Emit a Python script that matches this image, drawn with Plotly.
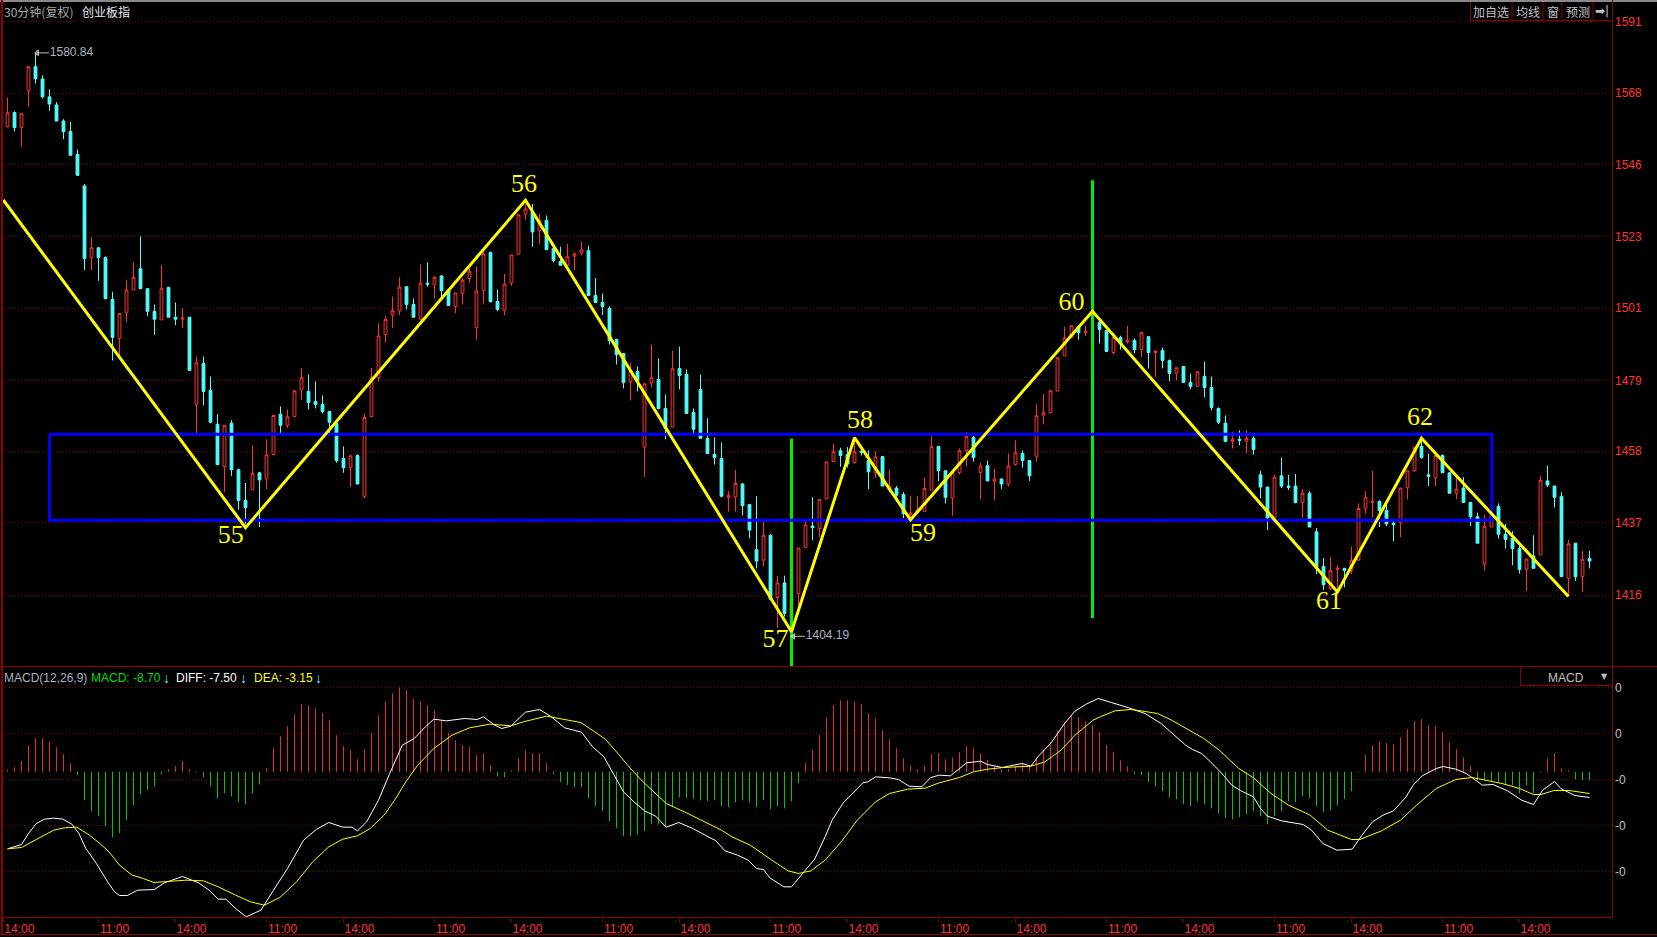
import math
import plotly.graph_objects as go

W, H = 1657, 937

price_open = [
 1557.3,1561.8,1557.1,1568.7,1576.4,1572.5,1566.8,1564.2,1559.1,1555.8,
 1548.6,1538.7,1516.5,1519.5,1516.5,1503.6,1491.8,1499.5,1506.5,1513.0,
 1506.9,1500.0,1497.4,1507.3,1498.2,1497.6,1498.2,1472.0,1484.2,1476.1,
 1466.0,1453.4,1466.3,1452.5,1443.5,1446.6,1451.6,1449.8,1457.0,1469.0,
 1465.7,1468.3,1476.2,1475.8,1472.8,1471.9,1469.8,1466.3,1455.8,1453.2,
 1456.7,1444.7,1468.3,1479.9,1492.9,1498.9,1500.1,1507.5,1502.1,1497.6,
 1508.6,1508.1,1510.8,1506.3,1501.5,1505.5,1510.0,1495.0,1506.3,1518.0,
 1503.0,1500.4,1508.7,1517.5,1529.9,1530.5,1524.8,1528.0,1519.2,1515.3,
 1514.1,1516.9,1517.8,1518.6,1504.8,1502.7,1500.9,1491.4,1487.2,1478.8,
 1481.8,1459.2,1478.3,1479.4,1470.7,1465.2,1482.7,1480.9,1469.5,1476.4,
 1461.8,1457.0,1455.8,1444.4,1444.5,1448.3,1442.3,1429.1,1426.1,1433.3,
 1415.3,1419.5,1409.7,1416.4,1429.8,1436.0,1435.2,1443.9,1454.9,1458.1,
 1457.0,1454.6,1458.0,1455.2,1451.6,1456.4,1446.5,1447.1,1445.2,1439.3,
 1440.0,1440.3,1446.5,1459.4,1452.2,1444.2,1451.7,1458.2,1462.1,1451.7,
 1453.7,1449.1,1449.8,1448.3,1454.1,1457.3,1455.2,1456.5,1468.7,1469.5,
 1475.9,1486.5,1492.1,1495.3,1493.5,1495.9,1496.6,1494.2,1487.5,1492.0,
 1490.7,1491.1,1488.4,1492.3,1487.5,1488.1,1485.1,1481.3,1483.3,1478.5,
 1477.3,1480.3,1477.0,1470.7,1466.3,1460.9,1461.5,1460.9,1461.8,1451.0,
 1447.4,1438.4,1450.7,1447.7,1447.7,1442.9,1445.6,1434.3,1424.2,1417.8,
 1423.4,1423.7,1423.1,1426.1,1441.2,1442.9,1443.2,1440.5,1436.8,1436.9,
 1447.2,1452.2,1459.4,1451.0,1450.1,1456.7,1451.6,1445.6,1447.1,1442.9,
 1438.7,1425.0,1435.7,1441.7,1433.6,1432.4,1429.4,1423.4,1427.3,1427.6,
 1449.2,1447.7,1444.7,1420.8,1431.0,1421.3,1426.6]

price_high = [
 1566.6,1562.2,1561.4,1576.4,1580.84,1573.7,1569.2,1565.1,1559.7,1558.8,
 1550.1,1539.3,1522.8,1519.5,1516.8,1506.0,1499.3,1509.6,1515.0,1523.0,
 1506.9,1502.1,1514.1,1507.5,1502.7,1500.9,1498.2,1486.3,1486.3,1480.3,
 1469.0,1465.7,1467.2,1452.8,1448.6,1459.7,1451.9,1461.5,1468.8,1471.3,
 1470.4,1476.0,1482.7,1480.9,1478.8,1474.6,1469.8,1466.3,1459.4,1456.9,
 1457.0,1469.0,1482.9,1496.4,1498.5,1504.5,1510.5,1507.5,1503.9,1514.4,
 1515.0,1510.8,1511.1,1506.3,1505.6,1510.1,1513.2,1513.8,1518.3,1518.3,
 1506.6,1511.4,1517.3,1529.7,1533.0,1533.1,1530.1,1529.5,1519.2,1519.8,
 1520.7,1518.0,1521.3,1520.1,1510.2,1505.4,1501.5,1491.7,1487.2,1484.5,
 1483.3,1478.1,1489.9,1485.7,1474.9,1488.1,1489.3,1482.4,1470.7,1480.9,
 1467.8,1462.1,1460.6,1446.2,1452.5,1448.6,1442.3,1444.7,1437.2,1433.6,
 1421.6,1421.6,1415.1,1429.6,1437.2,1444.4,1443.7,1454.8,1460.2,1459.0,
 1459.2,1461.2,1458.4,1458.2,1457.9,1456.4,1452.5,1447.7,1445.9,1444.7,
 1444.7,1450.1,1462.4,1459.4,1452.2,1451.6,1458.8,1463.6,1462.7,1454.6,
 1455.2,1452.8,1449.8,1457.3,1461.2,1458.2,1455.2,1471.9,1475.0,1476.0,
 1485.9,1495.3,1495.9,1495.3,1495.6,1497.1,1497.6,1494.2,1492.3,1492.6,
 1495.6,1491.7,1493.8,1492.3,1488.1,1489.0,1485.4,1482.9,1483.3,1481.2,
 1481.7,1484.8,1480.3,1471.0,1468.6,1463.6,1464.2,1464.2,1462.4,1452.2,
 1447.4,1451.0,1456.1,1451.0,1451.3,1446.8,1446.2,1435.4,1426.7,1427.0,
 1424.6,1423.7,1430.0,1442.6,1446.2,1452.2,1443.5,1442.3,1437.5,1447.1,
 1452.2,1459.1,1461.7,1457.3,1456.7,1457.0,1451.6,1450.3,1450.3,1442.9,
 1439.9,1439.3,1441.7,1442.6,1436.6,1434.5,1430.3,1426.4,1433.3,1450.7,
 1453.7,1447.7,1445.9,1432.0,1431.0,1428.8,1428.8]

price_low = [
 1557.1,1555.8,1551.0,1563.6,1571.0,1566.3,1562.4,1559.1,1553.4,1548.3,
 1542.0,1512.6,1512.6,1509.3,1503.6,1485.1,1486.6,1496.8,1506.5,1506.9,
 1498.5,1492.9,1497.4,1498.2,1495.8,1494.9,1482.1,1463.2,1471.6,1466.3,
 1454.0,1445.9,1450.7,1440.8,1436.5,1446.6,1435.7,1446.8,1456.7,1463.3,
 1464.8,1468.1,1473.1,1470.4,1470.7,1469.2,1463.2,1454.6,1451.6,1447.4,
 1448.3,1444.1,1468.1,1478.8,1490.5,1494.9,1498.8,1500.6,1498.2,1497.3,
 1507.5,1503.9,1504.3,1501.6,1499.4,1502.1,1508.7,1491.4,1502.1,1502.7,
 1500.0,1498.8,1507.8,1517.5,1528.2,1519.8,1520.7,1518.9,1515.0,1514.1,
 1514.1,1512.6,1517.1,1504.8,1502.7,1498.8,1489.9,1483.9,1476.7,1473.1,
 1475.8,1450.4,1477.0,1470.4,1461.5,1465.2,1476.4,1469.2,1463.2,1461.8,
 1457.3,1454.0,1444.4,1440.2,1440.2,1439.1,1432.4,1423.7,1424.3,1414.5,
 1406.6,1409.8,1404.19,1412.2,1429.8,1431.8,1432.7,1443.9,1454.9,1453.4,
 1453.2,1454.3,1456.7,1446.8,1450.1,1447.7,1446.0,1443.0,1438.3,1438.0,
 1440.0,1440.3,1446.5,1449.2,1442.6,1439.0,1451.1,1453.4,1454.9,1443.8,
 1449.2,1443.5,1446.8,1447.6,1453.7,1453.1,1449.2,1454.9,1466.0,1469.2,
 1475.9,1486.5,1491.9,1491.4,1492.6,1495.6,1490.2,1487.8,1486.9,1488.4,
 1490.2,1487.2,1486.0,1482.7,1480.3,1482.7,1478.8,1479.1,1478.5,1476.4,
 1477.3,1474.0,1470.1,1466.0,1460.6,1458.8,1459.7,1457.3,1457.0,1444.1,
 1434.8,1438.4,1447.1,1446.5,1442.6,1438.4,1435.7,1422.0,1417.5,1417.4,
 1416.7,1418.2,1422.1,1425.8,1439.6,1438.5,1435.7,1436.0,1431.5,1432.7,
 1443.8,1451.9,1455.8,1447.7,1447.7,1451.6,1445.6,1443.8,1442.9,1436.0,
 1431.0,1423.1,1435.7,1432.4,1429.4,1424.6,1422.2,1417.2,1423.7,1427.6,
 1447.4,1441.4,1421.3,1415.7,1420.1,1416.9,1423.7]

price_close = [
 1561.7,1557.0,1561.4,1576.4,1572.5,1566.8,1564.5,1559.1,1555.8,1548.3,
 1542.0,1516.2,1519.5,1516.5,1503.9,1492.1,1499.3,1506.5,1510.4,1506.9,
 1500.0,1497.6,1506.9,1498.2,1497.6,1498.0,1482.1,1484.4,1475.8,1466.6,
 1454.0,1465.7,1452.5,1443.5,1441.4,1451.5,1449.5,1456.9,1468.6,1465.7,
 1468.2,1476.0,1479.9,1472.5,1471.9,1469.8,1466.6,1455.2,1453.1,1456.6,
 1448.3,1468.0,1479.9,1492.5,1497.5,1500.2,1507.4,1502.1,1498.2,1508.6,
 1508.3,1510.4,1506.3,1501.8,1505.6,1509.5,1512.2,1506.2,1517.6,1503.0,
 1500.6,1508.3,1517.3,1529.7,1531.5,1524.4,1527.9,1518.9,1515.6,1514.1,
 1516.7,1517.6,1518.8,1504.8,1502.7,1501.5,1491.1,1486.9,1478.5,1481.8,
 1479.1,1478.1,1479.9,1470.7,1464.7,1482.6,1480.6,1469.2,1464.5,1461.8,
 1457.3,1456.1,1444.7,1445.0,1448.5,1442.0,1434.8,1425.8,1433.2,1414.8,
 1419.5,1410.7,1415.1,1429.6,1436.3,1435.5,1443.7,1454.8,1457.8,1456.7,
 1454.2,1457.8,1457.6,1451.9,1456.3,1447.7,1447.7,1445.0,1439.6,1439.8,
 1440.7,1447.0,1459.3,1452.2,1444.4,1451.6,1458.1,1462.3,1456.1,1453.6,
 1449.2,1449.7,1448.3,1453.6,1457.5,1455.2,1450.7,1468.5,1469.4,1476.0,
 1485.9,1491.9,1495.6,1493.5,1493.8,1496.2,1494.5,1487.8,1492.0,1490.2,
 1491.1,1488.4,1493.5,1487.5,1487.9,1485.1,1481.2,1482.9,1478.5,1477.3,
 1481.7,1477.0,1471.0,1466.6,1460.9,1461.5,1461.2,1461.8,1458.5,1447.4,
 1438.4,1450.3,1447.7,1447.3,1442.9,1445.6,1435.7,1424.0,1419.0,1423.1,
 1423.8,1423.1,1426.1,1441.1,1444.4,1443.2,1440.5,1436.6,1436.4,1447.1,
 1452.2,1459.1,1456.1,1450.6,1456.7,1451.6,1445.6,1446.8,1442.9,1438.7,
 1431.0,1435.9,1439.0,1433.6,1432.1,1429.4,1423.4,1426.4,1423.7,1449.4,
 1448.0,1444.4,1421.3,1430.8,1421.3,1426.3,1425.8]

macd_bar = [
 0.7,1.4,3.2,8.0,10.1,10.1,9.2,7.4,5.3,2.6,-1.0,-8.5,-11.8,-13.3,-16.3,-19.6,-18.4,-14.5,-10.0,-6.7,
 -5.5,-4.3,-0.7,0.8,1.7,3.2,0.8,-0.2,-1.6,-4.3,-7.9,-6.4,-7.3,-9.1,-9.7,-6.4,-3.7,1.1,7.1,10.7,
 13.7,17.3,20.3,20.0,19.1,17.6,15.5,11.0,7.7,6.5,3.8,6.8,11.6,17.0,21.2,23.6,25.3,24.5,21.8,21.2,
 20.0,18.5,15.5,11.6,9.5,8.0,7.4,5.0,5.6,2.0,-1.3,-1.6,0.5,4.1,6.5,5.6,5.6,2.6,-0.7,-3.1,
 -4.0,-4.6,-4.6,-7.9,-10.3,-11.8,-14.8,-16.9,-19.3,-19.3,-18.7,-17.8,-15.7,-15.7,-16.3,-10.3,-7.6,-7.9,-7.9,-8.5,
 -8.8,-8.5,-10.3,-10.6,-9.1,-8.5,-9.1,-10.6,-8.5,-11.2,-10.3,-10.9,-8.8,-3.4,2.6,6.5,11.0,16.4,20.0,21.5,
 21.5,21.2,20.3,17.6,16.1,12.5,9.8,7.1,4.1,2.0,0.8,1.7,5.3,5.6,3.8,4.4,5.9,7.7,7.1,5.6,
 3.5,1.7,0.8,0.8,1.7,2.6,1.7,4.4,6.8,8.9,12.5,14.9,17.0,16.4,15.2,14.0,11.9,8.0,5.9,3.5,
 1.7,-0.7,-1.0,-3.1,-4.3,-5.8,-7.6,-8.2,-9.7,-10.3,-8.8,-9.7,-10.9,-12.4,-13.9,-14.2,-13.6,-12.7,-11.8,-13.3,
 -15.7,-13.3,-11.8,-8.8,-9.1,-7.3,-7.9,-10.3,-12.1,-11.5,-10.0,-8.2,-5.8,-0.2,5.0,8.0,9.2,8.6,8.3,10.4,
 12.8,15.2,15.8,14.0,13.7,11.9,8.9,6.8,4.4,1.7,-2.5,-2.5,-2.8,-3.1,-3.7,-4.0,-6.4,-4.0,-6.4,-0.2,
 4.1,5.6,1.1,0.5,-2.2,-2.5,-2.5]

diff_bar = [0,2.0,3.0,4.1,5.3,6.6,7.9,9.2,10.2,11.2,12.7,14.3,15.3,16.0,17.1,18.6,21.0,22.4,25.0,27.3,28.8,30.1,31.2,32.6,34.1,36.2,38.0,40.0,42.3,44.1,45.9,47.9,49.2,50.0,51.3,53.0,54.6,56.4,58.1,59.7,60.9,62.7,65.3,67.1,68.0,69.6,70.6,71.9,74.0,76.0,77.5,79.6,82.0,83.6,85.2,86.7,88.0,89.5,91.0,92.6,94.1,95.9,97.9,101.2,102.5,104.3,105.8,107.0,108.0,108.9,110.9,112.0,113.2,115.3,116.8,117.8,119.4,120.9,122.2,122.9,124.0,126.0,127.3,128.8,130.6,131.9,133.1,134.7,136.0,137.0,139.0,140.0,142.1,143.9,144.9,146.2,147.2,149.2,151.0,152.5,154.0,155.8,156.9,157.7,160.2,162.5,164.8,166.3,168.3,169.3,170.6,172.1,173.7,174.9,176.2,178.0,179.0,180.0,182.0,185.1,186.3,187.9,189.9,192.1,193.5,195.0,196.5,198.0,199.8,200.8,202.1,204.1,205.1,206.9,208.4,210.7,212.2,214.3,216.3,218.0,219.3,221.0,221.9,223.9,225.2,226.0]
diff_val = [-23.1,-21.8,-18.5,-15.5,-14.2,-13.9,-14.2,-15.7,-18.5,-23.0,-27.5,-33.0,-36.0,-37.1,-37.1,-35.5,-35.3,-33.3,-31.4,-33.3,-35.5,-38.2,-38.2,-41.0,-43.5,-41.5,-35.5,-29.0,-20.5,-17.3,-15.2,-16.6,-16.6,-17.7,-15.0,-8.5,-0.5,8.0,10.0,13.5,15.8,15.3,16.0,15.7,16.5,14.0,13.0,13.7,17.9,18.7,16.8,13.2,11.9,7.5,4.5,-1.0,-6.0,-9.0,-11.7,-13.3,-16.6,-15.2,-17.0,-20.7,-23.7,-25.0,-26.5,-29.0,-29.3,-31.8,-34.5,-34.5,-31.5,-26.2,-19.5,-14.5,-9.3,-6.0,-3.3,-3.0,-1.5,-1.8,-2.3,-4.3,-4.5,-1.7,-1.0,-1.2,1.0,2.7,3.2,2.2,1.3,2.0,2.5,1.7,4.5,9.0,14.5,18.2,20.2,22.0,21.2,20.8,19.2,17.5,14.5,11.8,8.0,6.7,5.5,2.5,-1.0,-4.0,-5.7,-7.5,-11.0,-13.3,-14.7,-15.8,-17.5,-21.5,-23.5,-23.2,-19.0,-15.0,-13.0,-11.7,-7.5,-4.0,-1.2,1.0,1.6,0.8,-0.5,-4.0,-3.8,-5.7,-8.5,-9.8,-5.5,-2.9,-5.0,-7.1,-7.4,-7.7]

dea_bar = [0,2.0,3.5,5.1,6.6,8.1,9.9,11.7,13.2,14.5,16.0,17.8,19.4,20.9,23.4,25.5,28.0,30.1,32.6,34.7,36.7,38.9,41.3,43.6,45.9,47.9,50.0,51.8,53.8,55.3,56.9,58.6,60.9,63.5,66.0,68.9,71.9,73.7,77.0,79.6,81.9,83.9,85.4,87.2,89.0,90.8,92.6,94.1,96.7,99.7,102.0,103.5,106.1,109.2,111.5,113.0,114.8,116.8,119.1,121.4,124.0,126.0,128.6,131.1,133.1,136.0,138.0,140.0,142.3,146.2,148.2,150.5,152.5,155.1,156.1,158.2,160.5,162.2,164.3,166.3,168.3,170.9,173.1,175.9,178.0,180.5,183.0,186.1,188.6,192.0,193.2,196.3,199.0,201.3,204.1,206.9,209.2,211.5,213.5,216.0,218.0,219.1,220.9,223.1,226.0]
dea_val = [-23.1,-22.7,-21.0,-19.2,-17.5,-16.8,-16.6,-19.0,-21.5,-24.0,-28.0,-31.0,-32.0,-33.2,-32.9,-32.5,-32.7,-34.5,-37.0,-39.0,-40.0,-37.7,-33.0,-27.0,-22.5,-20.2,-19.2,-17.0,-13.0,-8.5,-3.0,2.0,7.0,11.0,13.2,14.3,13.8,15.0,16.7,15.8,14.8,12.0,9.8,5.5,1.0,-3.0,-6.7,-9.5,-12.0,-15.0,-17.5,-19.5,-22.0,-26.5,-29.7,-30.5,-29.7,-26.5,-21.0,-14.5,-9.0,-6.5,-5.2,-4.9,-3.3,-1.7,0.0,0.8,1.3,1.7,3.0,6.5,11.0,15.5,16.5,18.3,18.7,18.2,17.5,15.5,13.0,10.0,6.5,1.0,-1.8,-6.5,-10.0,-13.0,-17.5,-20.3,-20.3,-17.7,-14.5,-10.0,-5.0,-2.3,-1.7,-2.7,-3.5,-5.0,-6.8,-6.8,-5.6,-5.6,-6.5]

wave_bar = [-0.6,34,74,112,121,129,155,190,202,223]
wave_price = [1534.3,1435.5,1534.2,1405.5,1462.0,1437.8,1500.0,1416.9,1461.8,1415.6]
label_bar = [31.9,73.8,109.7,121.8,130.8,152,188.8,201.8]
label_price = [1432.9,1538.8,1403.1,1466.8,1433.5,1502.5,1414.0,1467.7]
label_text = ["55","56","57","58","59","60","61","62"]

box_bar = [6.0,212.05,212.05,6.0,6.0]
box_price = [1463.0,1463.0,1437.7,1437.7,1463.0]
green1_bar = [112,112]
green1_price = [1461.7,1395.6]
green2_bar = [155,155]
green2_price = [1540.5,1409.4]

price_ticks = [1591,1568,1545.4,1523,1501,1479,1458,1437,1416]
price_tick_text = ["1591","1568","1546","1523","1501","1479","1458","1437","1416"]
macd_ticks = [25.3,11.5,-2.3,-16.1,-29.9]
macd_tick_text = ["0","0","-0","-0","-0"]
time_ticks = [-0.6,13,24,37,48,61,72,85,96,109,120,133,144,157,168,181,192,205,216]
time_text = ["11:00" if i % 2 else "14:00" for i in range(len(time_ticks))]

RED = "#FF3232"
CYAN = "#54FCFC"
DARK = "#8B0000"
GRID = "#7A0000"
GRAY = "#C0C0C0"
FONT = "Liberation Sans, Arial, sans-serif"
CJK = "Noto Sans CJK SC, sans-serif"

bars = list(range(len(price_open)))
xr = [(2.5 - 7.5) / 7, (1612 - 7.5) / 7]

fig = go.Figure()
fig.add_trace(go.Candlestick(
    x=bars, open=price_open, high=price_high, low=price_low, close=price_close,
    whiskerwidth=0,
    increasing=dict(line=dict(color=RED, width=1), fillcolor="#000000"),
    decreasing=dict(line=dict(color=CYAN, width=1), fillcolor=CYAN),
    xaxis="x", yaxis="y", hoverinfo="skip"))

def line(x, y, color, width):
    fig.add_trace(go.Scatter(x=x, y=y, mode="lines", line=dict(color=color, width=width),
                             xaxis="x", yaxis="y", hoverinfo="skip"))

line(green1_bar, green1_price, "#00F000", 3)
line(green2_bar, green2_price, "#00F000", 3)
line(box_bar, box_price, "#0000FF", 3)
line(wave_bar, wave_price, "#FFFF00", 3)

fig.add_trace(go.Scatter(x=label_bar, y=label_price, mode="text", text=label_text,
                         textposition="middle center",
                         textfont=dict(family="Liberation Serif, serif", size=26, color="#FFFF00"),
                         xaxis="x", yaxis="y", hoverinfo="skip"))

# highest / lowest price markers
for b, p, txt in [(4, 1580.84, "1580.84"), (112, 1404.19, "1404.19")]:
    fig.add_trace(go.Scatter(x=[b + 0.25, b + 1.9], y=[p, p], mode="lines+markers",
                             line=dict(color=GRAY, width=1),
                             marker=dict(symbol=["triangle-left", "line-ns"], size=[5, 0], color=GRAY),
                             xaxis="x", yaxis="y", hoverinfo="skip"))
    fig.add_trace(go.Scatter(x=[b + 2.05], y=[p], mode="text", text=[txt], textposition="middle right",
                             textfont=dict(family=FONT, size=12, color="#A8B4C0"),
                             xaxis="x", yaxis="y", hoverinfo="skip"))

fig.add_trace(go.Bar(x=bars, y=macd_bar, width=0.13,
                     marker=dict(color=["rgba(255,50,50,0.99)" if v > 0 else "rgba(0,220,0,0.99)" for v in macd_bar],
                                 line=dict(width=0)),
                     xaxis="x2", yaxis="y2", hoverinfo="skip"))
fig.add_trace(go.Scatter(x=diff_bar, y=diff_val, mode="lines", line=dict(color="#FFFFFF", width=1),
                         xaxis="x2", yaxis="y2", hoverinfo="skip"))
fig.add_trace(go.Scatter(x=dea_bar, y=dea_val, mode="lines", line=dict(color="#FFFF00", width=1),
                         xaxis="x2", yaxis="y2", hoverinfo="skip"))

def px_x(v):
    return v / W
def px_y(v):
    return 1 - v / H

anns = []
def label(x, y, text, color, size=12, anchor="left", family=FONT):
    anns.append(dict(xref="paper", yref="paper", x=px_x(x), y=px_y(y), text=text, showarrow=False,
                     xanchor=anchor, yanchor="middle", borderpad=0,
                     font=dict(family=family, size=size, color=color)))

label(3, 11, "30分钟(复权)", "#A8A8A8", family=CJK)
label(81, 11, "创业板指", "#E8E8E8", family=CJK)
label(1491, 11, "加自选", GRAY, anchor="center", family=CJK)
label(1527.5, 11, "均线", GRAY, anchor="center", family=CJK)
label(1552.5, 11, "窗", GRAY, anchor="center", family=CJK)
label(1577.5, 11, "预测", GRAY, anchor="center", family=CJK)
label(1602, 11, "➡|", GRAY, anchor="center", family="DejaVu Sans")
label(3, 678, "MACD(12,26,9)", "#A8B4C0")
label(90, 678, "MACD: -8.70", "#00DC00")
label(162, 678, "<b>↓</b>", CYAN, size=14)
label(175, 678, "DIFF: -7.50", "#FFFFFF")
label(239, 678, "<b>↓</b>", CYAN, size=14)
label(252.5, 678, "DEA: -3.15", "#FFFF00")
label(314, 678, "<b>↓</b>", CYAN, size=14)
label(1566, 678, "MACD", GRAY, anchor="center")
label(1604, 676.5, "▼", GRAY, size=8, anchor="center", family="DejaVu Sans")

shapes = []
def seg(x0, y0, x1, y1, color=DARK, width=1):
    shapes.append(dict(type="line", xref="paper", yref="paper", x0=px_x(x0), y0=px_y(y0),
                       x1=px_x(x1), y1=px_y(y1), line=dict(color=color, width=width)))

seg(0, 1, W, 1, "#8A8A8A", 2)
seg(2, 0, 2, 934, DARK, 2)
seg(1612.5, 0, 1612.5, 917.5)
seg(0, 666.5, W, 666.5)
seg(2, 917.5, 1612.5, 917.5)
seg(0, 934.5, W, 934.5)
for bx in [1470.5, 1512, 1543, 1562, 1593]:
    seg(bx, 2, bx, 20.5)
seg(1470.5, 20.5, 1612.5, 20.5)
seg(1520.5, 666.5, 1520.5, 685.5)
seg(1520.5, 685.5, 1612.5, 685.5)

dom_x = [2.5 / W, 1612 / W]
fig.update_layout(
    width=W, height=H, margin=dict(l=0, r=0, t=0, b=0),
    paper_bgcolor="#000000", plot_bgcolor="#000000", showlegend=False,
    hovermode=False, boxgap=0.4286, barmode="overlay",
    annotations=anns, shapes=shapes,
    xaxis=dict(domain=dom_x, range=xr, anchor="y", showticklabels=False, showgrid=False,
               zeroline=False, ticks="", rangeslider=dict(visible=False), fixedrange=True),
    yaxis=dict(domain=[px_y(666.5), px_y(2)], type="log", side="right", anchor="x",
               range=[math.log10(1395.6), math.log10(1597.26)],
               tickmode="array", tickvals=price_ticks, ticktext=price_tick_text,
               tickfont=dict(family=FONT, size=12, color=RED), ticks="", ticklabelstandoff=2,
               showgrid=True, gridcolor=GRID, griddash="1px,2px", gridwidth=1,
               zeroline=False, showline=False, fixedrange=True),
    xaxis2=dict(domain=dom_x, range=xr, anchor="y2", showgrid=False, zeroline=False,
                tickmode="array", tickvals=time_ticks, ticktext=time_text,
                tickfont=dict(family=FONT, size=12, color=RED),
                ticks="outside", ticklen=3, tickcolor=DARK, ticklabelshift=16, ticklabelstandoff=-3,
                showline=False, fixedrange=True),
    yaxis2=dict(domain=[px_y(917.5), px_y(666.5)], side="right", anchor="x2",
                range=[-43.7, 31.6],
                tickmode="array", tickvals=macd_ticks, ticktext=macd_tick_text,
                tickfont=dict(family=FONT, size=12, color=GRAY), ticks="", ticklabelstandoff=2,
                showgrid=True, gridcolor=GRID, griddash="1px,2px", gridwidth=1,
                zeroline=False, showline=False, fixedrange=True),
)

fig.write_html("out.html", config=dict(displayModeBar=False),
               post_script="document.body.style.margin='0';document.body.style.overflow='hidden';")
